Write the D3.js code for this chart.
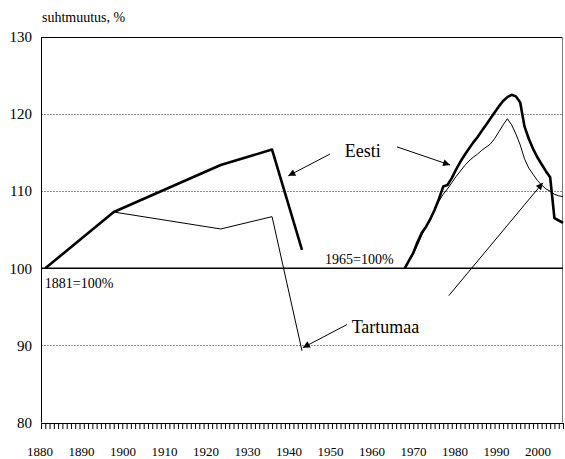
<!DOCTYPE html>
<meta charset="utf-8">
<style>
body { margin: 0; background: #fff; }
</style>
<body>
<script src="https://cdn.jsdelivr.net/npm/d3@7/dist/d3.min.js"></script>
<script>

// census years 1881-1941 (1881 = 100%)
var yearsA  = [1881, 1897, 1922, 1934, 1941];
var eestiA  = [100, 107.3, 113.4, 115.4, 102.4];
var tartuA  = [100, 107.3, 105.1, 106.7, 89.3];

// yearly 1965-2002 (1965 = 100%)
var yearsB = [1965,1966,1967,1968,1969,1970,1971,1972,1973,1974,1975,1976,1977,1978,1979,
  1980,1981,1982,1983,1984,1985,1986,1987,1988,1989,1990,1991,1992,1993,1994,1995,1996,
  1997,1998,1999,2000,2001,2002];
var eestiB = [100.0,101.0,102.0,103.4,104.6,105.4,106.4,107.6,109.0,110.6,110.8,111.7,112.8,
  113.8,114.7,115.5,116.3,117.0,117.8,118.6,119.4,120.2,121.0,121.7,122.2,122.5,122.3,121.5,
  118.4,116.8,115.5,114.4,113.5,112.6,111.8,106.5,106.2,105.9];
var tartuB = [100.0,100.9,101.8,103.0,104.3,105.4,106.5,107.6,108.7,109.6,110.3,111.1,111.9,
  112.6,113.3,113.9,114.4,114.8,115.3,115.7,116.1,116.8,117.7,118.6,119.4,118.6,117.4,116.0,
  114.2,113.0,112.2,111.4,110.8,110.3,110.0,109.6,109.4,109.3];

var yTicks = [80, 90, 100, 110, 120, 130];
var xLabels = [1880,1890,1900,1910,1920,1930,1940,1950,1960,1970,1980,1990,2000];

var width = 565, height = 459;
var margin = {top: 37, right: 2, bottom: 36, left: 41};
var serif = "'Liberation Serif', 'Times New Roman', 'DejaVu Serif', serif";

var svg = d3.select("body").append("svg")
    .attr("width", width)
    .attr("height", height)
    .attr("font-family", serif);

var x = d3.scaleLinear().domain([1880, 2002]).range([margin.left, width - margin.right]);
var y = d3.scaleLinear().domain([80, 130]).range([height - margin.bottom - 0.5, margin.top]);
// the category labels sit on a slightly tighter spacing than the data
var xLab = d3.scaleLinear().domain([1880, 2000]).range([40, 538]);

// grid lines
svg.selectAll(".grid")
    .data([90, 110, 120])
    .enter().append("line")
    .attr("x1", x(1880)).attr("x2", x(2002))
    .attr("y1", function(d) { return Math.round(y(d)) + 0.5; })
    .attr("y2", function(d) { return Math.round(y(d)) + 0.5; })
    .attr("stroke", "#8c8c8c")
    .attr("stroke-dasharray", "2,1")
    .attr("stroke-width", 1);

// frame
svg.append("line")
    .attr("x1", x(1880)).attr("x2", x(2002))
    .attr("y1", Math.round(y(130)) + 0.5).attr("y2", Math.round(y(130)) + 0.5)
    .attr("stroke", "#000");
svg.append("line")
    .attr("x1", x(2002) - 0.5).attr("x2", x(2002) - 0.5)
    .attr("y1", y(130)).attr("y2", y(80))
    .attr("stroke", "#777");
svg.append("line")
    .attr("x1", x(1880) + 0.5).attr("x2", x(1880) + 0.5)
    .attr("y1", y(130)).attr("y2", y(80))
    .attr("stroke", "#000");

// 100% base line
svg.append("line")
    .attr("x1", x(1880)).attr("x2", x(2002))
    .attr("y1", y(100)).attr("y2", y(100))
    .attr("stroke", "#000")
    .attr("stroke-width", 1.5);

// x axis with yearly ticks
var xAxis = d3.axisBottom(x)
    .tickValues(d3.range(1880, 2003))
    .tickSize(6)
    .tickFormat("");
svg.append("g")
    .attr("transform", "translate(0," + Math.round(y(80)) + ")")
    .call(xAxis)
    .call(function(g) {
      g.select(".domain").attr("stroke", "#000");
      g.selectAll(".tick line").attr("stroke", "#000");
    });

svg.selectAll(".xlab")
    .data(xLabels)
    .enter().append("text")
    .attr("x", function(d) { return xLab(d); })
    .attr("y", 456)
    .attr("text-anchor", "middle")
    .attr("font-family", serif)
    .style("font-size", "13px")
    .text(function(d) { return d; });

// y labels
svg.selectAll(".ylab")
    .data(yTicks)
    .enter().append("text")
    .attr("x", 32)
    .attr("y", function(d) { return y(d); })
    .attr("dy", "0.35em")
    .attr("text-anchor", "end")
    .attr("font-family", serif)
    .style("font-size", "15px")
    .text(function(d) { return d; });

svg.append("text")
    .attr("x", 42)
    .attr("y", 22)
    .attr("font-family", serif)
    .style("font-size", "14px")
    .text("suhtmuutus, %");

// series
var line = d3.line()
    .x(function(d) { return x(d[0]); })
    .y(function(d) { return y(d[1]); });

function pairs(xs, vs) { return xs.map(function(v, i) { return [v, vs[i]]; }); }

svg.append("path").datum(pairs(yearsA, tartuA))
    .attr("d", line).attr("fill", "none").attr("stroke", "#000").attr("stroke-width", 1);
svg.append("path").datum(pairs(yearsB, tartuB))
    .attr("d", line).attr("fill", "none").attr("stroke", "#000").attr("stroke-width", 1);
svg.append("path").datum(pairs(yearsA, eestiA))
    .attr("d", line).attr("fill", "none").attr("stroke", "#000").attr("stroke-width", 2.6)
    .attr("stroke-linejoin", "round");
svg.append("path").datum(pairs(yearsB, eestiB))
    .attr("d", line).attr("fill", "none").attr("stroke", "#000").attr("stroke-width", 2.6)
    .attr("stroke-linejoin", "round");

// annotations (data units)
var notes = [
  {text: "Eesti", at: [1951.0, 114.5], size: 18},
  {text: "Tartumaa", at: [1952.6, 91.6], size: 18},
  {text: "1965=100%", at: [1946.4, 100.5], size: 14},
  {text: "1881=100%", at: [1880.9, 97.4], size: 14}
];
var arrows = [
  {from: [1947.5, 114.8], to: [1937.8, 112.0]},
  {from: [1963.2, 115.75], to: [1975.6, 113.4]},
  {from: [1951.5, 92.7], to: [1941.2, 89.7]},
  {from: [1975.3, 96.45], to: [1997.3, 111.1]}
];

svg.append("defs").append("marker")
    .attr("id", "head")
    .attr("viewBox", "0 0 10 10")
    .attr("refX", 10).attr("refY", 5)
    .attr("markerWidth", 8).attr("markerHeight", 7)
    .attr("markerUnits", "userSpaceOnUse")
    .attr("orient", "auto")
    .append("path")
    .attr("d", "M0,0L10,5L0,10z")
    .attr("fill", "#000");

svg.selectAll(".arrow")
    .data(arrows)
    .enter().append("line")
    .attr("x1", function(d) { return x(d.from[0]); })
    .attr("y1", function(d) { return y(d.from[1]); })
    .attr("x2", function(d) { return x(d.to[0]); })
    .attr("y2", function(d) { return y(d.to[1]); })
    .attr("stroke", "#000")
    .attr("stroke-width", 1)
    .attr("marker-end", "url(#head)");

svg.selectAll(".note")
    .data(notes)
    .enter().append("text")
    .attr("x", function(d) { return x(d.at[0]); })
    .attr("y", function(d) { return y(d.at[1]); })
    .attr("font-family", serif)
    .style("font-size", function(d) { return d.size + "px"; })
    .text(function(d) { return d.text; });

</script>
</body>
